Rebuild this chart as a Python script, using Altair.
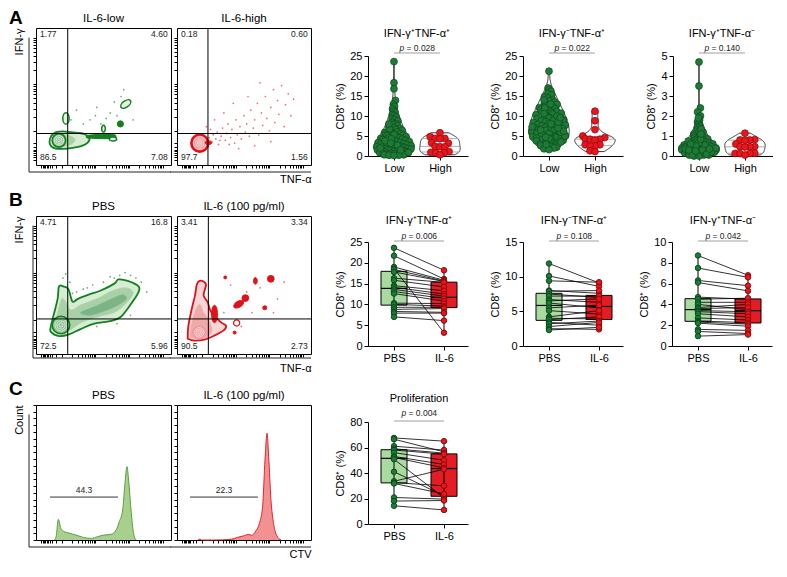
import math
import altair as alt
import pandas as pd

FONT = "Liberation Sans"

# ======================= DATA =======================
panel_letters = ["A", "B", "C"]

# ---------- Panel A : flow plots (relative coordinates inside the frame) ----------
a_flow_titles = ["IL-6-low", "IL-6-high"]
a_flow_quads = [["1.77", "4.60", "86.5", "7.08"], ["0.18", "0.60", "97.7", "1.56"]]
a_flow_gates = [[0.235, 0.23], [0.231, 0.23]]

a1_polys = [
    ("outer", [(0.10, 0.17), (0.115, 0.215), (0.15, 0.24), (0.20, 0.245), (0.26, 0.24), (0.31, 0.235),
               (0.36, 0.225), (0.395, 0.20), (0.385, 0.165), (0.34, 0.14), (0.27, 0.125), (0.20, 0.118),
               (0.14, 0.122), (0.11, 0.14)]),
    ("mid", [(0.12, 0.17), (0.135, 0.21), (0.17, 0.225), (0.22, 0.22), (0.27, 0.205), (0.29, 0.18),
             (0.26, 0.15), (0.20, 0.135), (0.15, 0.138), (0.125, 0.15)]),
    ("solid", [(0.38, 0.215), (0.45, 0.222), (0.52, 0.226), (0.585, 0.22), (0.585, 0.198), (0.52, 0.192),
               (0.45, 0.194), (0.38, 0.197)]),
]
a1_blobs = {
    "target": [(0.17, 0.18, 0.10, "c", 0)],
    "ring": [(0.17, 0.18, 0.07, "c", 0), (0.17, 0.18, 0.045, "c", 0), (0.17, 0.18, 0.02, "c", 0)],
    "loop": [(0.222, 0.34, 0.085, "e", 90), (0.665, 0.445, 0.085, "e", 325), (0.50, 0.265, 0.05, "e", 90),
             (0.57, 0.19, 0.055, "e", 0)],
    "solid": [(0.625, 0.30, 0.045, "c", 0), (0.45, 0.21, 0.05, "e", 0), (0.53, 0.21, 0.06, "e", 0)],
}
a1_dots = [(0.45, 0.42), (0.40, 0.33), (0.55, 0.38), (0.30, 0.40), (0.65, 0.55), (0.60, 0.36), (0.48, 0.30),
           (0.72, 0.33), (0.35, 0.30), (0.58, 0.46), (0.26, 0.33), (0.52, 0.34), (0.63, 0.50), (0.44, 0.36)]

a2_polys = []
a2_blobs = {
    "target": [(0.17, 0.16, 0.125, "c", 0)],
    "coreb": [(0.17, 0.16, 0.085, "c", 0)],
    "ring": [(0.17, 0.16, 0.06, "c", 0), (0.17, 0.16, 0.035, "c", 0), (0.17, 0.16, 0.015, "c", 0)],
    "solid": [(0.235, 0.163, 0.05, "e", 0)],
}
a2_dots = [(0.24, 0.20), (0.26, 0.17), (0.27, 0.22), (0.29, 0.19), (0.30, 0.24), (0.31, 0.15), (0.33, 0.21),
           (0.34, 0.27), (0.36, 0.18), (0.37, 0.23), (0.38, 0.30), (0.40, 0.20), (0.41, 0.26), (0.43, 0.16),
           (0.44, 0.33), (0.45, 0.22), (0.47, 0.28), (0.48, 0.19), (0.50, 0.36), (0.51, 0.24), (0.52, 0.30),
           (0.54, 0.21), (0.55, 0.40), (0.57, 0.27), (0.58, 0.33), (0.60, 0.45), (0.61, 0.22), (0.63, 0.38),
           (0.64, 0.29), (0.66, 0.50), (0.67, 0.34), (0.69, 0.25), (0.70, 0.42), (0.72, 0.55), (0.73, 0.31),
           (0.75, 0.47), (0.76, 0.37), (0.78, 0.58), (0.80, 0.28), (0.81, 0.44), (0.83, 0.52), (0.85, 0.36),
           (0.87, 0.48), (0.35, 0.38), (0.42, 0.45), (0.28, 0.33), (0.22, 0.28), (0.53, 0.50), (0.62, 0.60),
           (0.46, 0.12), (0.58, 0.14), (0.70, 0.17), (0.25, 0.26), (0.32, 0.18), (0.39, 0.15)]

# ---------- Panel A : violins ----------
a_titles = ["IFN-γ⁺TNF-α⁺", "IFN-γ⁻TNF-α⁺", "IFN-γ⁺TNF-α⁻"]
a_pvals = ["0.028", "0.022", "0.140"]
a_ymax = [25, 25, 5]
a_yticks = [[0, 5, 10, 15, 20, 25], [0, 5, 10, 15, 20, 25], [0, 1, 2, 3, 4, 5]]
a_groups = ["Low", "High"]

a1_low = [23.6, 18.3, 16.8, 13.9, 12.9, 12.4, 11.8, 11.3, 10.9, 10.4, 10.1, 9.7, 9.3, 9.1, 8.8, 8.4, 8.1,
          7.9, 7.6, 7.3, 7.1, 6.9, 6.6, 6.4, 6.2, 6.0, 5.9, 5.7, 5.5, 5.4, 5.2, 5.1, 4.9, 4.8, 4.6, 4.5, 4.4,
          4.2, 4.1, 4.0, 3.9, 3.7, 3.6, 3.5, 3.4, 3.3, 3.1, 3.0, 2.9, 2.8, 2.8, 2.6, 2.5, 2.4, 2.3, 2.2, 2.1,
          2.0, 1.9, 1.8, 1.8, 1.7, 1.6, 1.5, 1.4, 1.3, 1.3, 1.2, 1.1, 1.0, 1.0, 0.9, 0.8, 0.8, 0.7, 0.6, 0.6,
          0.5, 0.4, 0.4, 0.3, 0.3, 0.2, 0.2, 0.1, 5.3, 4.3, 3.8, 2.7, 1.5, 0.9, 6.8, 8.0, 3.2, 2.0]
a1_high = [5.8, 4.8, 4.4, 4.4, 4.3, 3.3, 3.2, 2.4, 2.3, 2.3, 1.1, 0.9, 0.8, 0.8, 0.3]
a2_low = [21.2, 17.0, 16.6, 16.2, 15.6, 15.3, 14.8, 14.5, 14.1, 13.8, 13.5, 13.2, 12.9, 12.6, 12.3, 12.1,
          11.9, 11.6, 11.4, 11.2, 10.9, 10.7, 10.5, 10.3, 10.1, 9.9, 9.7, 9.5, 9.3, 9.1, 8.9, 8.8, 8.6, 8.4,
          8.2, 8.1, 7.9, 7.7, 7.6, 7.4, 7.2, 7.1, 6.9, 6.8, 6.6, 6.4, 6.3, 6.1, 6.0, 5.8, 5.7, 5.5, 5.4, 5.2,
          5.1, 4.9, 4.8, 4.6, 4.5, 4.3, 4.2, 4.0, 3.8, 3.6, 3.4, 3.2, 3.0, 2.8, 2.6, 2.4, 2.2, 2.0, 1.8, 1.6,
          9.0, 8.0, 7.0, 6.5, 5.6, 10.0, 11.0, 12.0, 4.4, 3.9, 5.0, 6.2, 7.3, 8.5, 9.6, 10.6, 3.5, 2.9,
          13.0, 14.0, 4.7]
a2_high = [11.2, 8.8, 6.6, 5.0, 4.6, 4.3, 4.2, 4.2, 4.0, 2.8, 2.8, 2.5, 2.5, 1.3, 1.1]
a3_low = [4.7, 3.5, 2.4, 2.2, 2.0, 1.8, 1.7, 1.6, 1.5, 1.45, 1.4, 1.3, 1.25, 1.2, 1.15, 1.1, 1.05, 1.0,
          1.0, 0.95, 0.9, 0.9, 0.85, 0.8, 0.8, 0.75, 0.7, 0.7, 0.65, 0.6, 0.6, 0.6, 0.55, 0.5, 0.5, 0.5,
          0.45, 0.45, 0.4, 0.4, 0.4, 0.4, 0.35, 0.35, 0.3, 0.3, 0.3, 0.3, 0.25, 0.25, 0.2, 0.2, 0.2, 0.2,
          0.15, 0.15, 0.1, 0.1, 0.1, 0.05, 0.05, 0.05, 0.0, 0.0, 1.9, 1.35, 0.75, 0.55, 0.35, 0.25, 0.15,
          0.65, 0.85, 1.1, 0.3, 0.2, 0.1, 0.45, 0.5, 0.6, 0.05, 0.4, 0.3, 0.25, 0.35]
a3_high = [1.14, 0.82, 0.8, 0.8, 0.78, 0.6, 0.47, 0.46, 0.46, 0.45, 0.14, 0.13, 0.13, 0.12, 0.05]

# ---------- Panel B : flow plots ----------
b_flow_titles = ["PBS", "IL-6 (100 pg/ml)"]
b_flow_quads = [["4.71", "16.8", "72.5", "5.96"], ["3.41", "3.34", "90.5", "2.73"]]
b_flow_gates = [[0.235, 0.254], [0.234, 0.254]]

b1_polys = [
    ("outer", [(0.11, 0.20), (0.13, 0.28), (0.16, 0.40), (0.17, 0.49), (0.20, 0.49), (0.24, 0.47), (0.27, 0.38),
               (0.31, 0.40), (0.39, 0.43), (0.48, 0.46), (0.58, 0.51), (0.61, 0.54), (0.68, 0.53), (0.76, 0.49),
               (0.76, 0.45), (0.73, 0.40), (0.68, 0.33), (0.63, 0.27), (0.56, 0.24), (0.43, 0.22), (0.33, 0.18),
               (0.24, 0.14), (0.17, 0.13), (0.11, 0.16)]),
    ("mid", [(0.14, 0.20), (0.16, 0.30), (0.19, 0.40), (0.22, 0.38), (0.26, 0.32), (0.34, 0.36), (0.45, 0.40),
             (0.57, 0.46), (0.67, 0.48), (0.72, 0.44), (0.66, 0.36), (0.58, 0.30), (0.46, 0.27), (0.34, 0.23),
             (0.25, 0.17), (0.18, 0.15)]),
    ("core", [(0.33, 0.30), (0.45, 0.35), (0.56, 0.40), (0.64, 0.43), (0.67, 0.40), (0.60, 0.35), (0.50, 0.31),
              (0.40, 0.28)]),
]
b1_blobs = {
    "target": [(0.185, 0.21, 0.13, "c", 0)],
    "ring": [(0.185, 0.21, 0.09, "c", 0), (0.185, 0.21, 0.06, "c", 0), (0.185, 0.21, 0.03, "c", 0)],
}
b1_dots = [(0.30, 0.45), (0.35, 0.47), (0.42, 0.50), (0.50, 0.52), (0.55, 0.56), (0.62, 0.57), (0.70, 0.57),
           (0.78, 0.52), (0.25, 0.52), (0.20, 0.55), (0.82, 0.45), (0.45, 0.20), (0.60, 0.22), (0.70, 0.28),
           (0.27, 0.44), (0.38, 0.48), (0.66, 0.59), (0.74, 0.55), (0.22, 0.58), (0.58, 0.55)]

b2_polys = [
    ("outer", [(0.08, 0.121), (0.085, 0.205), (0.11, 0.326), (0.134, 0.423), (0.149, 0.507), (0.179, 0.531),
               (0.216, 0.507), (0.209, 0.471), (0.199, 0.423), (0.229, 0.375), (0.249, 0.314), (0.278, 0.278),
               (0.328, 0.229), (0.366, 0.205), (0.348, 0.171), (0.278, 0.133), (0.204, 0.104), (0.129, 0.097),
               (0.085, 0.109)]),
    ("mid", [(0.10, 0.13), (0.11, 0.22), (0.14, 0.32), (0.17, 0.36), (0.20, 0.30), (0.24, 0.24), (0.26, 0.17),
             (0.22, 0.12), (0.15, 0.11)]),
]
b2_blobs = {
    "coreb": [(0.166, 0.157, 0.10, "c", 0)],
    "ring": [(0.166, 0.157, 0.07, "c", 0), (0.166, 0.157, 0.045, "c", 0), (0.166, 0.157, 0.02, "c", 0)],
    "solid": [(0.28, 0.29, 0.13, "e3", 90), (0.46, 0.36, 0.08, "e", 150), (0.51, 0.405, 0.05, "c", 0),
              (0.585, 0.53, 0.05, "e", 90), (0.70, 0.545, 0.05, "c", 0), (0.655, 0.335, 0.03, "c", 0),
              (0.36, 0.555, 0.022, "c", 0), (0.43, 0.155, 0.022, "c", 0)],
    "loopw": [(0.445, 0.225, 0.045, "c", 0)],
}
b2_dots = [(0.40, 0.50), (0.52, 0.45), (0.62, 0.48), (0.75, 0.40), (0.35, 0.30), (0.56, 0.30), (0.48, 0.20),
           (0.72, 0.30), (0.80, 0.52)]

# ---------- Panel B : paired boxes ----------
b_titles = ["IFN-γ⁺TNF-α⁺", "IFN-γ⁻TNF-α⁺", "IFN-γ⁺TNF-α⁻"]
b_pvals = ["0.006", "0.108", "0.042"]
b_ymax = [25, 15, 10]
b_yticks = [[0, 5, 10, 15, 20, 25], [0, 5, 10, 15], [0, 2, 4, 6, 8, 10]]
pair_groups = ["PBS", "IL-6"]

b1_pbs = [23.6, 21.7, 19.0, 18.6, 18.4, 17.8, 16.3, 15.8, 14.5, 14.1, 13.6, 13.1, 12.6, 10.3, 10.0, 9.3, 8.8,
          8.3, 7.9, 7.0]
b1_il6 = [18.2, 16.1, 15.8, 3.2, 15.6, 15.5, 15.3, 14.2, 13.3, 12.5, 12.0, 11.4, 10.8, 10.2, 9.6, 9.3, 9.0,
          8.1, 7.9, 6.1]
b2_pbs = [11.9, 10.1, 9.4, 8.0, 7.9, 7.5, 7.2, 6.7, 6.5, 6.2, 5.5, 5.1, 4.2, 4.0, 3.8, 3.4, 3.2, 2.8, 2.5, 2.3]
b2_il6 = [9.1, 8.6, 9.2, 7.6, 8.0, 7.0, 7.2, 6.3, 6.8, 5.5, 5.9, 4.6, 5.1, 3.9, 4.2, 3.0, 3.6, 3.4, 2.4, 2.7]
b3_pbs = [8.7, 7.5, 6.3, 6.1, 4.7, 4.5, 4.2, 4.0, 3.7, 3.6, 3.4, 3.3, 3.1, 2.7, 2.4, 2.3, 2.2, 1.6, 1.4, 0.95]
b3_il6 = [6.8, 6.6, 5.8, 5.3, 4.5, 4.6, 4.2, 3.5, 4.0, 3.7, 3.3, 3.1, 2.8, 2.5, 2.25, 2.1, 1.9, 1.5, 1.2, 1.1]

# ---------- Panel C : CTV histograms ----------
c_flow_titles = ["PBS", "IL-6 (100 pg/ml)"]
c_hist_x_pbs = [0.136, 0.150, 0.165, 0.185, 0.21, 0.235, 0.27, 0.31, 0.36, 0.41, 0.457, 0.506, 0.556, 0.593,
                0.617, 0.642, 0.659, 0.674, 0.686, 0.704, 0.723, 0.741]
c_hist_h_pbs = [0.0, 0.03, 0.153, 0.086, 0.062, 0.054, 0.044, 0.032, 0.017, 0.012, 0.025, 0.037, 0.042, 0.074,
                0.136, 0.222, 0.42, 0.543, 0.444, 0.222, 0.049, 0.0]
c_hist_x_il6 = [0.154, 0.17, 0.185, 0.278, 0.403, 0.453, 0.502, 0.532, 0.557, 0.59, 0.614, 0.639, 0.657,
                0.672, 0.684, 0.701, 0.721, 0.746, 0.776]
c_hist_h_il6 = [0.0, 0.006, 0.0, 0.0, 0.005, 0.02, 0.032, 0.042, 0.035, 0.07, 0.12, 0.25, 0.6, 0.79, 0.62,
                0.3, 0.12, 0.03, 0.0]
c_gates = [[0.104, 0.607, 0.318], [0.097, 0.604, 0.318]]
c_gate_labels = ["44.3", "22.3"]

# ---------- Panel C : proliferation ----------
c_title = "Proliferation"
c_pval = "0.004"
c_ymax = 80
c_yticks = [0, 20, 40, 60, 80]
c_pbs = [67.5, 66.5, 61.0, 59.0, 58.0, 56.0, 53.0, 52.2, 50.8, 41.0, 33.5, 32.4, 31.8, 20.8, 18.0, 14.3]
c_il6 = [65.0, 56.6, 58.0, 55.6, 54.8, 50.0, 46.7, 44.0, 20.6, 22.1, 43.0, 30.0, 23.6, 19.5, 18.4, 11.0]

# ======================= STYLE =======================
GREEN = {"outer": ("#d6ecd3", "#13801f", 1.8), "mid": ("#a8d2a5", None, 0), "core": ("#7db487", None, 0),
         "solid": ("#13801f", "#13801f", 1.0), "target": ("#8fc196", "#13801f", 1.6),
         "coreb": ("#8fc196", None, 0), "loop": ("#e4f2e2", "#13801f", 1.5), "loopw": ("#ffffff", "#13801f", 1.2),
         "ring": (None, "#f2f7f2", 0.7), "dot": "#3f9b4b"}
RED = {"outer": ("#f8d6d6", "#df1219", 1.8), "mid": ("#f0a9a9", None, 0), "core": ("#e78080", None, 0),
       "solid": ("#df1219", "#df1219", 1.0), "target": ("#f4c2c2", "#df1219", 2.6),
       "coreb": ("#ec9a9a", None, 0), "loop": ("#fbe4e4", "#df1219", 1.5), "loopw": ("#ffffff", "#df1219", 1.2),
       "ring": (None, "#fbeeee", 0.7), "dot": "#e8474c"}

PT_FILL = ["#1f7a37", "#e8161d"]
PT_EDGE = ["#0b4a1b", "#8a0a0e"]
BOX_FILL = ["#a9dba1", "#e31d23"]
VIOLIN_HALF = 0.44

ELLIPSE = "M-1,0A1,0.55,0,1,1,1,0A1,0.55,0,1,1,-1,0Z"
ELLIPSE3 = "M-1,0A1,0.33,0,1,1,1,0A1,0.33,0,1,1,-1,0Z"

FLOW_X_TICKS = sorted(set(round(v, 4) for v in (
    [0.035, 0.05, 0.06, 0.07, 0.08, 0.09, 0.10, 0.12, 0.145]
    + [m + 0.25 * math.log10(k) for m in (0.19, 0.44, 0.69) for k in range(1, 10)] + [0.94])))
FLOW_Y_TICKS = sorted(set(round(v, 4) for v in (
    [0.04, 0.06, 0.075, 0.09, 0.10, 0.11, 0.13, 0.16]
    + [m + 0.34 * math.log10(k) for m in (0.25, 0.59) for k in range(1, 10)] + [0.93])))
HIST_Y_TICKS = [round(0.05 * i, 3) for i in range(21)]


# ======================= BUILDERS =======================
def frame_common(W, H, gate, title, first, letter, letter_dy, ytitle, xtitle, outer_px, yticks, xticks):
    sx = alt.Scale(domain=[0, 1], nice=False, zero=False)
    sy = alt.Scale(domain=[0, 1], nice=False, zero=False)
    xaxis = alt.Axis(values=xticks, labels=False, domain=False, ticks=True, tickSize=3, grid=False,
                     title=xtitle, titleAnchor="end", titlePadding=5, titleFontSize=11, tickColor="black")
    yaxis = alt.Axis(values=yticks, labels=False, domain=False, ticks=True, tickSize=3, grid=False,
                     title=ytitle, titleAnchor="end", titlePadding=8, titleFontSize=11, tickColor="black")
    X = lambda f: alt.X(f, scale=sx, axis=xaxis)
    Y = lambda f: alt.Y(f, scale=sy, axis=yaxis)
    layers = []
    if gate is not None:
        layers.append(alt.Chart(pd.DataFrame({"qx": [gate[0]]})).mark_rule(color="black", strokeWidth=1)
                      .encode(x=X("qx:Q")))
        layers.append(alt.Chart(pd.DataFrame({"qy": [gate[1]]})).mark_rule(color="black", strokeWidth=1)
                      .encode(y=Y("qy:Q")))
    ox, oy = -outer_px[0] / W, -outer_px[1] / H
    if first:
        lines = pd.DataFrame({"x": [ox, ox], "x2": [ox, 1.0], "y": [oy, oy], "y2": [0.93, oy]})
    else:
        lines = pd.DataFrame({"x": [-0.05], "x2": [1.0], "y": [oy], "y2": [oy]})
    layers.append(alt.Chart(lines).mark_rule(color="#222222", strokeWidth=1).encode(
        x=X("x:Q"), x2="x2:Q", y=Y("y:Q"), y2="y2:Q"))
    tdf = pd.DataFrame({"x": [0.5], "y": [1 + 6 / H], "t": [title]})
    layers.append(alt.Chart(tdf).mark_text(fontSize=11.5, font=FONT, baseline="alphabetic", color="black")
                  .encode(x=X("x:Q"), y=Y("y:Q"), text="t:N"))
    if letter:
        ldf = pd.DataFrame({"x": [-27 / W], "y": [1 + letter_dy / H], "t": [letter]})
        layers.append(alt.Chart(ldf).mark_text(fontSize=19, fontWeight="bold", align="left",
                                               baseline="alphabetic", font=FONT, color="black")
                      .encode(x=X("x:Q"), y=Y("y:Q"), text="t:N"))
    return X, Y, layers


def flow_chart(W, H, gate, quads, title, polys, blobs, dots, pal, first, letter=None, letter_dy=6,
               ytitle=None, xtitle=None, outer_px=(7, 7)):
    X, Y, common = frame_common(W, H, gate, title, first, letter, letter_dy, ytitle, xtitle, outer_px,
                                FLOW_Y_TICKS, FLOW_X_TICKS)
    layers = []
    for kind, pts in polys:
        fill, stroke, sw = pal[kind]
        df = pd.DataFrame({"x": [p[0] for p in pts], "y": [p[1] for p in pts], "o": list(range(len(pts)))})
        layers.append(alt.Chart(df).mark_line(fill=fill, stroke=stroke or fill, strokeWidth=sw if stroke else 0.5,
                                              interpolate="cardinal-closed")
                      .encode(x=X("x:Q"), y=Y("y:Q"), order="o:Q"))
    size_scale = alt.Scale(type="pow", exponent=2, domain=[0, 1], range=[0, W * W])
    shape_scale = alt.Scale(domain=["c", "e", "e3"], range=["circle", ELLIPSE, ELLIPSE3])
    for kind in ["target", "coreb", "ring", "loop", "loopw", "solid"]:
        if kind not in blobs:
            continue
        fill, stroke, sw = pal[kind]
        rows = blobs[kind]
        df = pd.DataFrame({"x": [r[0] for r in rows], "y": [r[1] for r in rows], "d": [r[2] for r in rows],
                           "s": [r[3] for r in rows], "a": [r[4] for r in rows]})
        mk = {"strokeWidth": sw if stroke else 0, "opacity": 1}
        if fill:
            mk.update(filled=True, fill=fill, fillOpacity=1)
        else:
            mk.update(filled=False)
        if stroke:
            mk.update(stroke=stroke)
        layers.append(alt.Chart(df).mark_point(**mk).encode(
            x=X("x:Q"), y=Y("y:Q"),
            size=alt.Size("d:Q", scale=size_scale, legend=None),
            shape=alt.Shape("s:N", scale=shape_scale, legend=None),
            angle=alt.Angle("a:Q", scale=None)))
    if dots:
        ddf = pd.DataFrame({"x": [d[0] for d in dots], "y": [d[1] for d in dots]})
        layers.append(alt.Chart(ddf).mark_circle(size=3, color=pal["dot"], opacity=0.8).encode(
            x=X("x:Q"), y=Y("y:Q")))
    qdf_l = pd.DataFrame({"x": [0.03, 0.03], "y": [0.955, 0.06], "t": [quads[0], quads[2]]})
    qdf_r = pd.DataFrame({"x": [0.975, 0.975], "y": [0.955, 0.06], "t": [quads[1], quads[3]]})
    for qdf, al in [(qdf_l, "left"), (qdf_r, "right")]:
        layers.append(alt.Chart(qdf).mark_text(fontSize=8.5, font=FONT, align=al, baseline="middle",
                                               color="#222222")
                      .encode(x=X("x:Q"), y=Y("y:Q"), text="t:N"))
    return alt.layer(*(layers + common)).properties(
        width=W, height=H, view=alt.ViewBackground(stroke="black", strokeWidth=1))


def hist_chart(W, H, xs, hs, pal_fill, pal_line, gate, glabel, title, first, letter=None, ytitle=None,
               xtitle=None):
    X, Y, common = frame_common(W, H, None, title, first, letter, 10, ytitle, xtitle, (7, 7),
                                HIST_Y_TICKS, FLOW_X_TICKS)
    df = pd.DataFrame({"x": xs, "h": hs})
    area = alt.Chart(df).mark_area(interpolate="monotone", fill=pal_fill, fillOpacity=1,
                                   line={"color": pal_line, "strokeWidth": 1}).encode(
        x=X("x:Q"), y=Y("h:Q"))
    gdf = pd.DataFrame({"x": [gate[0]], "x2": [gate[1]], "y": [gate[2]]})
    grule = alt.Chart(gdf).mark_rule(color="#333333", strokeWidth=1).encode(
        x=X("x:Q"), x2="x2:Q", y=Y("y:Q"))
    ldf = pd.DataFrame({"x": [(gate[0] + gate[1]) / 2], "y": [gate[2] + 0.05], "t": [glabel]})
    glab = alt.Chart(ldf).mark_text(fontSize=8.5, font=FONT, color="#222222").encode(
        x=X("x:Q"), y=Y("y:Q"), text="t:N")
    return alt.layer(area, grule, glab, *common).properties(
        width=W, height=H, view=alt.ViewBackground(stroke="black", strokeWidth=1))


def _quantile(sorted_vals, p):
    pos = (len(sorted_vals) - 1) * p
    lo = int(math.floor(pos))
    hi = min(lo + 1, len(sorted_vals) - 1)
    return sorted_vals[lo] + (sorted_vals[hi] - sorted_vals[lo]) * (pos - lo)


def kde_halfwidth(vals):
    """Relative half-width of the violin (same Scott bandwidth rule as Vega) -> function of value."""
    s = sorted(vals)
    n = len(s)
    mean = sum(s) / n
    sd = math.sqrt(sum((v - mean) ** 2 for v in s) / (n - 1))
    iqr = _quantile(s, 0.75) - _quantile(s, 0.25)
    bw = 1.06 * min(sd, iqr / 1.34 if iqr > 0 else sd) * n ** -0.2
    dens = lambda x: sum(math.exp(-0.5 * ((x - v) / bw) ** 2) for v in s)
    grid = [s[0] + (s[-1] - s[0]) * i / 119 for i in range(120)]
    mx = max(dens(g) for g in grid)
    return lambda x: VIOLIN_HALF * dens(x) / mx


def swarm(vals, groups, ppx, ppy, limits, min_d=4.6):
    out = [0.0] * len(vals)
    for g in sorted(set(groups)):
        idx = sorted([i for i in range(len(vals)) if groups[i] == g], key=lambda i: vals[i])
        half = limits[g]
        placed = []
        for n, i in enumerate(idx):
            y = vals[i] * ppy
            max_off = max(1.5, half(vals[i]) * ppx - 3.0)
            chosen = 0.0
            found = False
            for k in range(0, 80):
                cands = [0.0] if k == 0 else ([k * 0.7, -k * 0.7] if n % 2 == 0 else [-k * 0.7, k * 0.7])
                for c in cands:
                    if abs(c) > max_off:
                        continue
                    if all((c - px) ** 2 + (y - py) ** 2 >= min_d ** 2 for px, py in placed):
                        chosen = c
                        found = True
                        break
                if found or k * 0.7 > max_off:
                    break
            if not found:
                chosen = ((n * 7) % 11 - 5) / 5.0 * max_off
            placed.append((chosen, y))
            out[i] = g + chosen / ppx
    return out


def y_axis(ticks):
    return alt.Axis(values=ticks, title="CD8⁺ (%)", grid=False, tickSize=4, labelFontSize=11,
                    titleFontSize=11, labelPadding=2, titlePadding=4, domainColor="black", tickColor="black")


def x_axis(names):
    return alt.Axis(values=[1, 2], labelExpr=f"datum.value == 1 ? '{names[0]}' : '{names[1]}'", title=None,
                    grid=False, tickSize=4, labelFontSize=11, labelPadding=2, domainColor="black",
                    tickColor="black")


def annot_layers(X, Y, ymax, PH, title, pval, t_px, p_px, l_px):
    ttl = pd.DataFrame({"x": [1.5], "y": [ymax * (1 + t_px / PH)], "t": [title]})
    pv1 = pd.DataFrame({"x": [1.5], "y": [ymax * (1 + p_px / PH)], "t": ["p"]})
    pv2 = pd.DataFrame({"x": [1.5], "y": [ymax * (1 + p_px / PH)], "t": ["= " + pval]})
    ln = pd.DataFrame({"x": [1.0], "x2": [2.0], "y": [ymax * (1 + l_px / PH)]})
    return [
        alt.Chart(ttl).mark_text(fontSize=11, font=FONT, baseline="middle", color="black").encode(
            x=X("x:Q"), y=Y("y:Q"), text="t:N"),
        alt.Chart(pv1).mark_text(fontSize=8.5, font=FONT, fontStyle="italic", align="left", dx=-17.5,
                                 baseline="middle", color="#222222").encode(x=X("x:Q"), y=Y("y:Q"), text="t:N"),
        alt.Chart(pv2).mark_text(fontSize=8.5, font=FONT, align="left", dx=-10.5, baseline="middle",
                                 color="#222222").encode(x=X("x:Q"), y=Y("y:Q"), text="t:N"),
        alt.Chart(ln).mark_rule(color="#a0a0a0", strokeWidth=1).encode(x=X("x:Q"), x2="x2:Q", y=Y("y:Q")),
    ]


def violin_chart(low, high, ymax, yticks, title, pval, VH, T, W=100):
    PH = VH - T
    xdom = [0.435, 2.61]
    ppx = W / (xdom[1] - xdom[0])
    ppy = PH / ymax
    vals = low + high
    groups = [1] * len(low) + [2] * len(high)
    halves = {1: kde_halfwidth(low), 2: kde_halfwidth(high)}
    df = pd.DataFrame({"g": groups, "v": vals})
    df["xs"] = swarm(vals, groups, ppx, ppy, halves)
    qrows = []
    for g, arr in [(1, low), (2, high)]:
        s = sorted(arr)
        for p in (0.25, 0.5, 0.75):
            q = _quantile(s, p)
            w = halves[g](q)
            qrows.append({"x": g - w, "x2": g + w, "y": q})
    qdf = pd.DataFrame(qrows)
    sx = alt.Scale(domain=xdom, nice=False, zero=False)
    sy = alt.Scale(domain=[0, ymax], range=[VH, T], nice=False, zero=True)
    xa, ya = x_axis(a_groups), y_axis(yticks)
    X = lambda f: alt.X(f, scale=sx, axis=xa)
    Y = lambda f: alt.Y(f, scale=sy, axis=ya)
    violin = alt.Chart(df).transform_density(
        "v", groupby=["g"], as_=["v", "dens"], steps=120, resolve="independent"
    ).transform_joinaggregate(mx="max(dens)", groupby=["g"]).transform_calculate(
        x1=f"datum.g - {VIOLIN_HALF} * datum.dens / datum.mx", x2=f"datum.g + {VIOLIN_HALF} * datum.dens / datum.mx"
    ).mark_area(orient="horizontal", fill="white", stroke="black", strokeWidth=0.8).encode(
        y=Y("v:Q"), x=X("x1:Q"), x2="x2:Q", detail="g:N")
    qlines = alt.Chart(qdf).mark_rule(color="#9a9a9a", strokeWidth=0.8).encode(
        x=X("x:Q"), x2="x2:Q", y=Y("y:Q"))
    pts = alt.Chart(df).mark_point(filled=True, size=48, strokeWidth=0.7, opacity=1).encode(
        x=X("xs:Q"), y=Y("v:Q"),
        fill=alt.Fill("g:N", scale=alt.Scale(domain=[1, 2], range=PT_FILL), legend=None),
        stroke=alt.Stroke("g:N", scale=alt.Scale(domain=[1, 2], range=PT_EDGE), legend=None))
    return alt.layer(violin, qlines, pts, *annot_layers(X, Y, ymax, PH, title, pval, 22, 8, 3)).properties(
        width=W, height=VH)


def pair_chart(pbs, il6, ymax, yticks, title, pval, VH, T, ann, W=100):
    PH = VH - T
    xdom = [0.48, 2.48]
    n = len(pbs)
    df = pd.DataFrame({"donor": list(range(n)) * 2, "g": [1] * n + [2] * n, "v": pbs + il6})
    sx = alt.Scale(domain=xdom, nice=False, zero=False)
    sy = alt.Scale(domain=[0, ymax], range=[VH, T], nice=False, zero=True)
    xa, ya = x_axis(pair_groups), y_axis(yticks)
    X = lambda f: alt.X(f, scale=sx, axis=xa)
    Y = lambda f: alt.Y(f, scale=sy, axis=ya)
    base = alt.Chart(df)
    stats = base.transform_aggregate(
        q1="q1(v)", q3="q3(v)", med="median(v)", lo="min(v)", hi="max(v)", groupby=["g"]
    ).transform_calculate(xl="datum.g - 0.26", xr="datum.g + 0.26")
    bars = stats.mark_bar(stroke="black", strokeWidth=1).encode(
        x=X("xl:Q"), x2="xr:Q", y=Y("q1:Q"), y2="q3:Q",
        color=alt.Color("g:N", scale=alt.Scale(domain=[1, 2], range=BOX_FILL), legend=None))
    whisk = stats.mark_rule(color="black", strokeWidth=1).encode(x=X("g:Q"), y=Y("lo:Q"), y2="hi:Q")
    lines = base.mark_line(color="black", strokeWidth=0.8).encode(x=X("g:Q"), y=Y("v:Q"), detail="donor:N")
    med = stats.mark_rule(color="black", strokeWidth=1.2).encode(x=X("xl:Q"), x2="xr:Q", y=Y("med:Q"))
    pts = base.mark_point(filled=True, size=30, strokeWidth=1, opacity=1).encode(
        x=X("g:Q"), y=Y("v:Q"),
        fill=alt.Fill("g:N", scale=alt.Scale(domain=[1, 2], range=PT_FILL), legend=None),
        stroke=alt.Stroke("g:N", scale=alt.Scale(domain=[1, 2], range=PT_EDGE), legend=None))
    return alt.layer(bars, whisk, lines, med, pts, *annot_layers(X, Y, ymax, PH, title, pval, *ann)).properties(
        width=W, height=VH)


def spacer(w):
    return alt.Chart(pd.DataFrame({"z": [0]})).mark_point(opacity=0, size=1).properties(width=w, height=1)


# ======================= LAYOUT =======================
AH, BH, CH = 137, 138, 135

fa1 = flow_chart(135, AH, a_flow_gates[0], a_flow_quads[0], a_flow_titles[0], a1_polys, a1_blobs, a1_dots,
                 GREEN, True, letter=panel_letters[0], letter_dy=4, ytitle="IFN-γ")
fa2 = flow_chart(134, AH, a_flow_gates[1], a_flow_quads[1], a_flow_titles[1], a2_polys, a2_blobs, a2_dots,
                 RED, False, xtitle="TNF-α")
va = [violin_chart(l, h, m, t, ti, p, 128, 28) for l, h, m, t, ti, p in
      zip([a1_low, a2_low, a3_low], [a1_high, a2_high, a3_high], a_ymax, a_yticks, a_titles, a_pvals)]
rowA = alt.hconcat(fa1, spacer(6), fa2, spacer(57), va[0], spacer(55), va[1], spacer(50), va[2],
                   spacing=0, bounds="flush")

fb1 = flow_chart(135, BH, b_flow_gates[0], b_flow_quads[0], b_flow_titles[0], b1_polys, b1_blobs, b1_dots,
                 GREEN, True, letter=panel_letters[1], letter_dy=10, ytitle="IFN-γ", outer_px=(3, 4))
fb2 = flow_chart(134, BH, b_flow_gates[1], b_flow_quads[1], b_flow_titles[1], b2_polys, b2_blobs, b2_dots,
                 RED, False, xtitle="TNF-α", outer_px=(3, 4))
pb = [pair_chart(p, i, m, t, ti, pv, 130, 26, (21, 6, 1)) for p, i, m, t, ti, pv in
      zip([b1_pbs, b2_pbs, b3_pbs], [b1_il6, b2_il6, b3_il6], b_ymax, b_yticks, b_titles, b_pvals)]
rowB = alt.hconcat(fb1, spacer(6), fb2, spacer(57), pb[0], spacer(55), pb[1], spacer(49), pb[2],
                   spacing=0, bounds="flush")

hc1 = hist_chart(135, CH, c_hist_x_pbs, c_hist_h_pbs, "#a9cf8e", "#5e9e3c", c_gates[0], c_gate_labels[0],
                 c_flow_titles[0], True, letter=panel_letters[2], ytitle="Count")
hc2 = hist_chart(134, CH, c_hist_x_il6, c_hist_h_il6, "#f19192", "#e2262d", c_gates[1], c_gate_labels[1],
                 c_flow_titles[1], False, xtitle="CTV")
pc = pair_chart(c_pbs, c_il6, c_ymax, c_yticks, c_title, c_pval, 119, 17, (23, 9, 1))
rowC = alt.hconcat(hc1, spacer(6), hc2, spacer(57), pc, spacing=0, bounds="flush")

chart = alt.vconcat(rowA, rowB, rowC, spacing=5).properties(padding=0).configure(
    font=FONT
).configure_view(stroke=None).configure_axis(
    labelFont=FONT, titleFont=FONT, labelColor="black", titleColor="black", titleFontWeight="normal"
)

chart.save("out.html", embed_options={"renderer": "svg", "actions": False})
